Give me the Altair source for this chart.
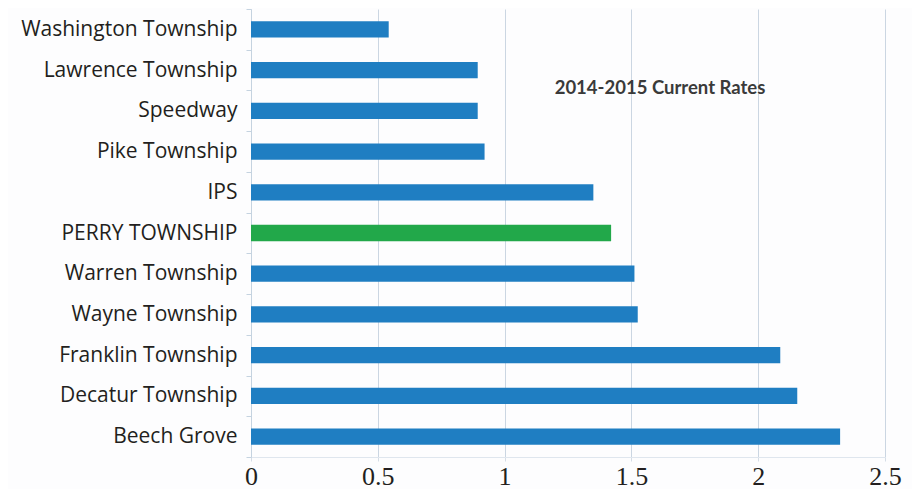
import altair as alt
import pandas as pd

districts = ["Washington Township", "Lawrence Township", "Speedway", "Pike Township", "IPS",
             "PERRY TOWNSHIP", "Warren Township", "Wayne Township", "Franklin Township",
             "Decatur Township", "Beech Grove"]
rates = [0.543, 0.894, 0.894, 0.921, 1.350, 1.420, 1.512, 1.525, 2.087, 2.154, 2.323]
highlight = ["no", "no", "no", "no", "no", "yes", "no", "no", "no", "no", "no"]
x_ticks = [0, 0.5, 1, 1.5, 2, 2.5]
note = "2014-2015 Current Rates"

df = pd.DataFrame({"district": districts, "rate": rates, "hl": highlight})

bars = alt.Chart(df).mark_bar(height={"band": 0.4}).encode(
    y=alt.Y("district:N", sort=districts, title=None,
            scale=alt.Scale(paddingInner=0, paddingOuter=0),
            axis=alt.Axis(labelFont="Open Sans", labelFontSize=21, labelColor="#231f20",
                          labelPadding=9, labelLimit=400, domainColor="#c5d3e0",
                          tickColor="#c5d3e0", tickSize=5, tickBand="extent", grid=False)),
    x=alt.X("rate:Q", title=None,
            scale=alt.Scale(domain=[0, 2.5], nice=False),
            axis=alt.Axis(values=x_ticks, labelFont="Liberation Serif", labelFontSize=26,
                          labelColor="#231f20", labelPadding=2, domain=True,
                          domainColor="#dfe6ee", tickColor="#d5dde6", tickSize=4,
                          gridColor="#cbd6e2", labelFlush=False,
                          labelExpr="format(datum.value, '~g')")),
    color=alt.Color("hl:N", scale=alt.Scale(domain=["no", "yes"], range=["#1f7ec2", "#22a84a"]),
                    legend=None),
)

text = alt.Chart(pd.DataFrame({"t": [note]})).mark_text(
    font="Lato", fontWeight="bold", fontSize=18.5, color="#3a3a3a", align="center",
    baseline="middle"
).encode(text="t:N", x=alt.value(409), y=alt.value(79))

chart = (bars + text).properties(
    width=634, height=448, autosize="none",
    padding={"left": 243, "top": 1, "right": 27, "bottom": 32},
    background="#fdfdfe",
).configure_view(stroke=None)

chart.save("out.html", embed_options={"renderer": "svg", "actions": False})
